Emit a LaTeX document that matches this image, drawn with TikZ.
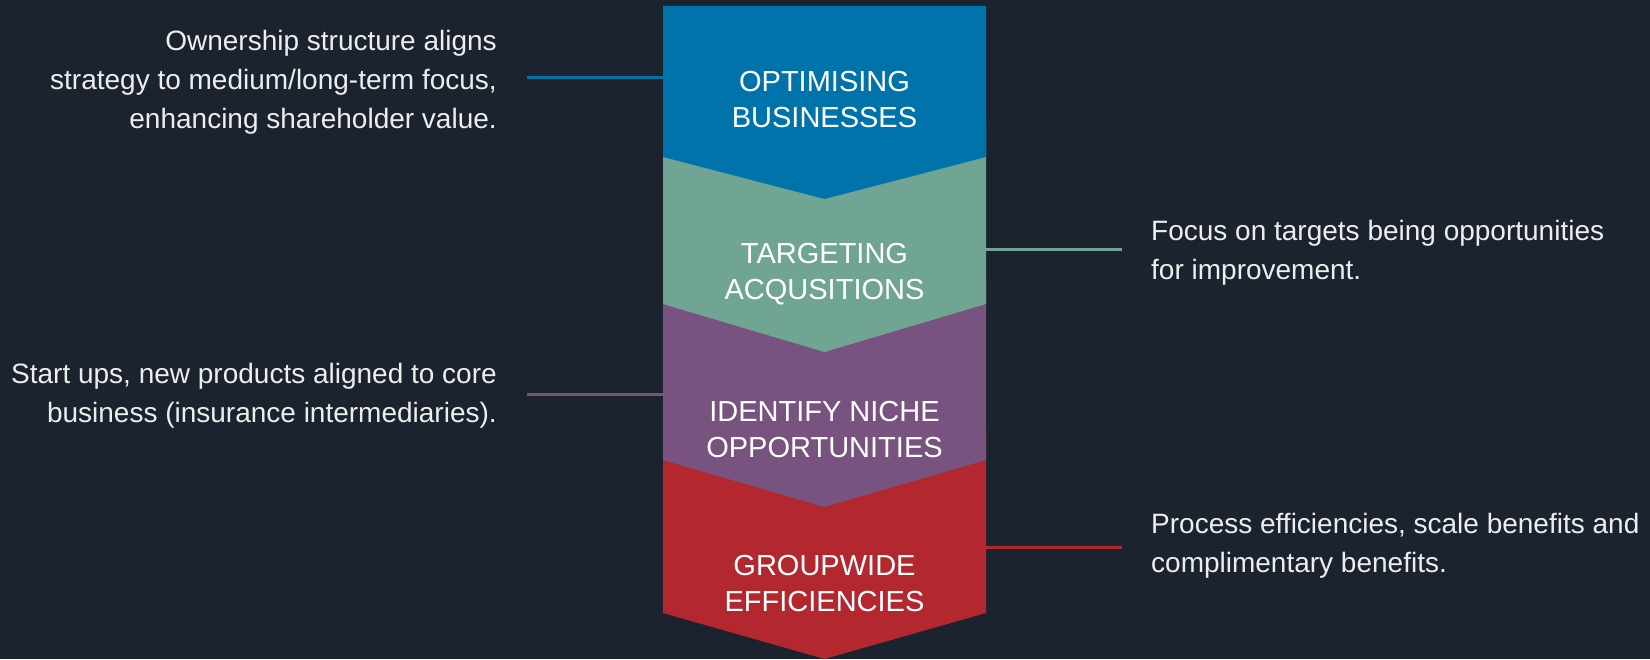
\documentclass[tikz,border=0pt]{standalone}
\usepackage{fontspec}
\setmainfont{Liberation Sans}
\definecolor{bgnavy}{HTML}{1B232E}
\definecolor{optblue}{HTML}{0073AA}
\definecolor{tgtteal}{HTML}{70A493}
\definecolor{nichepurple}{HTML}{79537F}
\definecolor{effred}{HTML}{B2282E}
\tikzstyle{steplabel} = [text=white, align=center, inner sep=0cm, font=\fontsize{29}{36}\selectfont]
\tikzstyle{sidetext} = [text=white!92!bgnavy, inner sep=0cm, font=\fontsize{28}{39}\selectfont]
\tikzstyle{sidelink} = [draw, line width=3pt]
% name, colour, top, side, tip, label y, label
\newcommand{\chevronstep}[7]{
  \fill[#2] (663,#3) -- (986,#3) -- (986,#4) -- (824.5,#5) -- (663,#4) -- cycle;
  \node[steplabel] (#1) at (824.5,#6) {#7};
}
% name, colour, text y, link y, text
\newcommand{\leftnote}[5]{
  \node[sidetext, align=right, anchor=east] (#1-txt) at (497,#3) {#5};
  \coordinate (#1-edge) at (663,#4);
  \coordinate (#1-end) at (527,#4);
  \draw[sidelink, #2] (#1-edge) -- (#1-end);
}
\newcommand{\rightnote}[5]{
  \node[sidetext, align=left, anchor=west] (#1-txt) at (1151,#3) {#5};
  \coordinate (#1-edge) at (986,#4);
  \coordinate (#1-end) at (1122,#4);
  \draw[sidelink, #2] (#1-edge) -- (#1-end);
}

\begin{document}
\begin{tikzpicture}[x=1pt, y=1pt]
\fill[bgnavy] (0,0) rectangle (1650,659);
\useasboundingbox (0,0) rectangle (1650,659);

\chevronstep{eff}{effred}{228}{46}{0}{75.5}{GROUPWIDE\\EFFICIENCIES}
\chevronstep{niche}{nichepurple}{379}{199}{152}{229}{IDENTIFY NICHE\\OPPORTUNITIES}
\chevronstep{tgt}{tgtteal}{536}{355}{307}{384.5}{TARGETING\\ACQUSITIONS}
\chevronstep{opt}{optblue}{653}{502}{460}{559}{OPTIMISING\\BUSINESSES}

\leftnote{own}{optblue}{577}{581.7}{Ownership structure aligns\\strategy to medium/long-term focus,\\enhancing shareholder value.}
\rightnote{foc}{tgtteal}{406}{409.7}{Focus on targets being opportunities\\for improvement.}
\leftnote{start}{nichepurple}{263.5}{264.7}{Start ups, new products aligned to core\\business (insurance intermediaries).}
\rightnote{proc}{effred}{113.5}{111.7}{Process efficiencies, scale benefits and\\complimentary benefits.}
\end{tikzpicture}
\end{document}
